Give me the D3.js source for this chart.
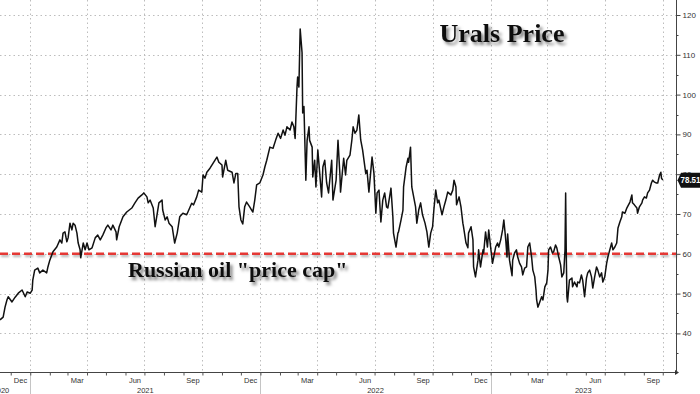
<!DOCTYPE html>
<html><head><meta charset="utf-8">
<script src="https://cdn.jsdelivr.net/npm/d3@7/dist/d3.min.js"></script>
<style>body{margin:0;background:#fff}svg{display:block}</style>
</head><body><svg id="c" width="700" height="394"></svg>
<script>
const title = "Urals Price";
const capLabel = 'Russian oil "price cap"';
const capLevel = 60;
const lastLabel = "78.51";
const yTicks = [40, 50, 60, 70, 80, 90, 100, 110, 120];
const yMinorTicks = [35, 45, 55, 65, 75, 85, 95, 105, 115];
const monthLabelNames = ["Dec", "Mar", "Jun", "Sep"];
const yearLabels = ["2020", "2021", "2022", "2023"];
const dates = [
"2020-11-14","2020-11-19","2020-11-22","2020-11-25","2020-11-27","2020-12-03","2020-12-08","2020-12-13","2020-12-19","2020-12-24","2020-12-27",
"2021-01-01","2021-01-04","2021-01-05","2021-01-08","2021-01-13","2021-01-16","2021-01-21","2021-01-27","2021-01-29","2021-02-01","2021-02-06",
"2021-02-12","2021-02-17","2021-02-20","2021-02-22","2021-02-25","2021-02-28","2021-03-02","2021-03-05","2021-03-08","2021-03-10","2021-03-13",
"2021-03-16","2021-03-18","2021-03-21","2021-03-22","2021-03-26","2021-03-29","2021-04-01","2021-04-04","2021-04-09","2021-04-14","2021-04-18",
"2021-04-22","2021-04-26","2021-05-01","2021-05-04","2021-05-09","2021-05-12","2021-05-17","2021-05-18","2021-05-22","2021-05-28","2021-06-03",
"2021-06-11","2021-06-16","2021-06-21","2021-06-27","2021-06-30","2021-07-05","2021-07-07","2021-07-10","2021-07-15","2021-07-18","2021-07-21",
"2021-07-24","2021-07-29","2021-07-30","2021-08-03","2021-08-06","2021-08-09","2021-08-14","2021-08-18","2021-08-22","2021-08-26","2021-08-31",
"2021-09-06","2021-09-08","2021-09-14","2021-09-17","2021-09-22","2021-09-25","2021-09-30","2021-10-02","2021-10-05","2021-10-08","2021-10-13",
"2021-10-18","2021-10-24","2021-10-27","2021-11-01","2021-11-02","2021-11-07","2021-11-10","2021-11-17","2021-11-20","2021-11-23","2021-11-26",
"2021-11-28","2021-12-01","2021-12-04","2021-12-07","2021-12-10","2021-12-15","2021-12-18","2021-12-20","2021-12-23","2021-12-26","2021-12-31",
"2022-01-05","2022-01-08","2022-01-11","2022-01-16","2022-01-21","2022-01-25","2022-01-29","2022-02-02","2022-02-06","2022-02-09","2022-02-12",
"2022-02-17","2022-02-20","2022-02-23","2022-02-25","2022-02-28","2022-03-01","2022-03-03","2022-03-05","2022-03-08","2022-03-09","2022-03-11",
"2022-03-14","2022-03-16","2022-03-19","2022-03-20","2022-03-24","2022-03-25","2022-03-28","2022-03-30","2022-04-02","2022-04-05","2022-04-08",
"2022-04-10","2022-04-13","2022-04-16","2022-04-19","2022-04-24","2022-04-26","2022-05-01","2022-05-04","2022-05-07","2022-05-08","2022-05-13",
"2022-05-16","2022-05-18","2022-05-23","2022-05-26","2022-05-28","2022-05-31","2022-06-03","2022-06-06","2022-06-09","2022-06-12","2022-06-17",
"2022-06-19","2022-06-22","2022-06-27","2022-06-30","2022-07-03","2022-07-05","2022-07-08","2022-07-11","2022-07-14","2022-07-17","2022-07-20",
"2022-07-22","2022-07-27","2022-07-30","2022-07-31","2022-08-04","2022-08-07","2022-08-08","2022-08-12","2022-08-15","2022-08-16","2022-08-20",
"2022-08-23","2022-08-24","2022-08-27","2022-08-29","2022-09-01","2022-09-04","2022-09-06","2022-09-09","2022-09-12","2022-09-15","2022-09-19",
"2022-09-22","2022-09-25","2022-09-28","2022-10-01","2022-10-03","2022-10-06","2022-10-09","2022-10-11","2022-10-16","2022-10-19","2022-10-22",
"2022-10-25","2022-10-30","2022-11-02","2022-11-04","2022-11-07","2022-11-08","2022-11-12","2022-11-15","2022-11-18","2022-11-19","2022-11-23",
"2022-11-26","2022-11-27","2022-12-01","2022-12-04","2022-12-05","2022-12-08","2022-12-12","2022-12-13","2022-12-16","2022-12-20","2022-12-21",
"2022-12-24","2022-12-27","2022-12-29","2023-01-01","2023-01-04","2023-01-06","2023-01-09","2023-01-12","2023-01-14","2023-01-17","2023-01-20",
"2023-01-22","2023-01-25","2023-01-27","2023-01-28","2023-01-31","2023-02-04","2023-02-05","2023-02-08","2023-02-11","2023-02-13","2023-02-16",
"2023-02-19","2023-02-21","2023-02-24","2023-02-27","2023-03-01","2023-03-04","2023-03-07","2023-03-09","2023-03-12","2023-03-14","2023-03-15",
"2023-03-17","2023-03-20","2023-03-23","2023-03-25","2023-03-28","2023-03-31","2023-04-02","2023-04-03","2023-04-06","2023-04-09","2023-04-11",
"2023-04-14","2023-04-16","2023-04-19","2023-04-22","2023-04-24","2023-04-27","2023-04-29","2023-04-30","2023-05-01","2023-05-02","2023-05-03",
"2023-05-06","2023-05-10","2023-05-11","2023-05-14","2023-05-18","2023-05-19","2023-05-22","2023-05-25","2023-05-27","2023-05-30","2023-06-02",
"2023-06-04","2023-06-07","2023-06-10","2023-06-12","2023-06-15","2023-06-18","2023-06-20","2023-06-23","2023-06-26","2023-06-28","2023-07-01",
"2023-07-04","2023-07-06","2023-07-09","2023-07-12","2023-07-14","2023-07-17","2023-07-20","2023-07-22","2023-07-25","2023-07-28","2023-07-29",
"2023-08-02","2023-08-05","2023-08-06","2023-08-10","2023-08-13","2023-08-14","2023-08-17","2023-08-21","2023-08-22","2023-08-25","2023-08-29",
"2023-08-30","2023-09-02","2023-09-05","2023-09-07","2023-09-10","2023-09-13","2023-09-15","2023-09-18","2023-09-21","2023-09-23","2023-09-26",
"2023-09-28","2023-09-29","2023-10-01"
];
const prices = [
43.4,44.1,46.6,48.4,49.2,47.9,49.1,50.1,50.9,49.2,50.4,
50.1,50.9,53.4,55.9,56.4,55.2,55.9,55.2,56.7,58.4,60.5,
61.7,63.5,62.7,65.2,65.5,63.0,64.0,67.7,66.0,67.7,67.2,
65.2,62.7,61.0,59.0,62.7,61.0,62.7,61.0,61.5,64.0,64.7,
63.5,64.7,66.5,67.2,66.0,67.2,65.5,63.5,66.8,69.3,70.5,
71.5,72.8,74.0,74.8,75.3,74.3,72.8,73.5,71.5,66.8,69.8,
72.8,73.5,71.0,68.5,69.3,67.7,66.8,62.7,65.2,69.3,70.2,
69.8,70.5,72.7,72.3,74.3,76.0,75.5,79.8,79.0,80.5,81.5,
82.8,84.3,83.0,82.3,79.3,83.5,81.0,80.5,77.8,80.2,80.2,
71.8,68.5,67.5,71.8,73.0,71.8,71.0,70.5,73.5,77.3,77.8,
79.8,81.8,83.5,86.8,86.5,88.5,90.3,89.0,91.1,89.8,91.9,
91.1,93.1,91.9,89.0,101.9,104.4,101.9,116.5,110.5,95.4,97.0,
78.5,88.5,91.9,88.5,86.8,79.3,83.5,76.8,86.1,80.2,74.3,
81.8,83.5,77.8,75.3,83.5,73.5,78.5,88.5,80.0,75.5,84.0,
79.8,83.5,84.8,88.6,91.9,90.3,91.1,94.9,88.6,86.1,80.2,
81.0,75.5,84.3,80.2,70.2,75.3,76.0,68.0,73.5,75.3,71.8,
71.5,76.5,69.3,65.2,61.7,65.2,65.5,68.5,71.0,76.8,81.8,
84.0,83.0,86.8,76.8,74.3,71.8,67.7,71.0,72.8,69.8,67.7,
65.5,61.7,65.2,66.8,71.0,76.0,72.8,73.5,69.8,71.8,73.5,
75.5,74.8,76.0,78.5,76.8,72.3,74.3,71.8,67.7,66.8,62.7,
61.5,65.2,66.8,63.5,56.7,54.2,58.4,61.0,56.7,61.0,60.2,
65.5,61.7,66.0,61.7,57.6,59.2,61.7,62.7,61.7,63.5,66.0,
68.5,63.5,59.2,65.0,58.4,54.5,58.4,60.2,61.0,59.2,57.6,
56.7,54.7,56.4,56.7,61.7,62.7,59.2,55.9,54.2,50.9,48.4,
46.6,47.9,49.2,48.4,51.7,52.7,55.9,61.0,61.7,60.2,60.5,
62.2,61.5,59.2,57.2,54.2,55.2,61.0,75.3,60.0,49.2,47.9,
53.4,53.9,51.7,52.9,51.7,52.9,52.7,54.7,53.4,49.2,53.9,
55.2,55.9,54.2,51.4,54.2,56.7,55.9,54.2,55.2,52.9,54.2,
57.6,59.2,61.0,62.7,61.0,61.7,62.7,66.5,68.0,69.3,70.5,
70.2,71.5,71.8,73.0,74.8,72.8,72.3,71.5,70.2,71.8,72.8,
73.5,74.3,74.0,75.3,76.0,77.8,78.5,78.0,77.8,77.8,79.8,
80.5,79.0,78.51
];

const W = 700, H = 394;
const plotRight = 676, axisY = 372;
const parse = d3.utcParse("%Y-%m-%d");
const series = dates.map((d, i) => ({ date: parse(d), value: prices[i] }));

const x = d3.scaleUtc()
  .domain([parse("2020-11-14"), parse("2023-10-22")])
  .range([0, plotRight]);
const y = d3.scaleLinear().domain([30.3, 123.77]).range([axisY, 0]);

const svg = d3.select("#c");
const defs = svg.append("defs");
defs.append("filter").attr("id", "tsh").attr("x", "-10%").attr("y", "-40%").attr("width", "130%").attr("height", "200%")
  .append("feDropShadow").attr("dx", 2.5).attr("dy", 3).attr("stdDeviation", 1.6)
  .attr("flood-color", "#000").attr("flood-opacity", 0.5);
defs.append("filter").attr("id", "lsh").attr("filterUnits", "userSpaceOnUse")
  .attr("x", -10).attr("y", 0).attr("width", W + 20).attr("height", H)
  .append("feDropShadow").attr("dx", 1).attr("dy", 2).attr("stdDeviation", 1)
  .attr("flood-color", "#000").attr("flood-opacity", 0.3);

// horizontal gridlines
svg.append("g").selectAll("line").data(yTicks).join("line")
  .attr("x1", 0).attr("x2", plotRight)
  .attr("y1", d => Math.round(y(d)) + 0.5).attr("y2", d => Math.round(y(d)) + 0.5)
  .attr("stroke", "#bdbdbd").attr("stroke-width", 1).attr("stroke-dasharray", "1.5,3");

// vertical gridlines at quarter starts
const quarters = d3.utcMonth.every(3).range(parse("2021-01-01"), parse("2023-10-22"));
svg.append("g").selectAll("line").data(quarters).join("line")
  .attr("x1", d => Math.round(x(d)) + 0.5).attr("x2", d => Math.round(x(d)) + 0.5)
  .attr("y1", 0).attr("y2", axisY)
  .attr("stroke", "#bdbdbd").attr("stroke-width", 1).attr("stroke-dasharray", "1.5,3");

// year separators below axis
const yearStarts = d3.utcYear.range(parse("2021-01-01"), parse("2023-10-22"));
svg.append("g").selectAll("line").data(yearStarts).join("line")
  .attr("x1", d => Math.round(x(d)) + 0.5).attr("x2", d => Math.round(x(d)) + 0.5)
  .attr("y1", axisY).attr("y2", H)
  .attr("stroke", "#c4c4c4").attr("stroke-width", 1);

// price cap line
svg.append("line")
  .attr("x1", 0).attr("x2", plotRight)
  .attr("y1", y(capLevel)).attr("y2", y(capLevel))
  .attr("stroke", "#e53935").attr("stroke-width", 2.6).attr("stroke-dasharray", "8,4")
  .attr("filter", "url(#lsh)");

// price line
const line = d3.line().x(d => x(d.date)).y(d => y(d.value)).curve(d3.curveLinear);
svg.append("path").datum(series)
  .attr("d", line).attr("fill", "none").attr("stroke", "#111")
  .attr("stroke-width", 1.5).attr("stroke-linejoin", "round");

// x axis
const xAxis = d3.axisBottom(x)
  .tickValues(d3.utcMonth.range(parse("2020-12-01"), parse("2023-10-22")))
  .tickSize(3).tickFormat("");
const gx = svg.append("g").attr("transform", `translate(0,${axisY + 0.5})`).call(xAxis);
gx.select(".domain").attr("stroke", "#444").attr("d", `M0,0H${plotRight}`);
gx.selectAll(".tick line").attr("stroke", "#555");
svg.append("path")
  .attr("d", `M${plotRight - 1},${axisY - 2}L${plotRight + 3},${axisY + 0.5}L${plotRight - 1},${axisY + 3}Z`)
  .attr("fill", "#333");

// month labels (centered in month)
const labelMonths = d3.utcMonth.range(parse("2020-12-01"), parse("2023-10-01"))
  .filter(d => monthLabelNames.includes(d3.utcFormat("%b")(d)));
svg.append("g").selectAll("text").data(labelMonths).join("text")
  .attr("x", d => (x(d) + x(d3.utcMonth.offset(d, 1))) / 2)
  .attr("y", 383)
  .attr("text-anchor", "middle")
  .attr("font-family", "Liberation Sans, Arial, sans-serif")
  .attr("font-size", 7.5).attr("fill", "#333")
  .text(d => d3.utcFormat("%b")(d));

// year labels
svg.append("g").selectAll("text").data(yearLabels).join("text")
  .attr("x", d => {
    const s = parse(d + "-01-01"), e = parse((+d + 1) + "-01-01");
    if (+d === 2020) return x(e) - 21;
    return (x(s) + Math.min(x(e), plotRight)) / 2;
  })
  .attr("y", 393)
  .attr("text-anchor", d => +d === 2020 ? "end" : "middle")
  .attr("font-family", "Liberation Sans, Arial, sans-serif")
  .attr("font-size", 7.5).attr("fill", "#333")
  .text(d => d);

// y axis (right)
const yAxis = d3.axisRight(y).tickValues(yTicks).tickSize(4).tickPadding(2).tickFormat(d3.format("d"));
const gy = svg.append("g").attr("transform", `translate(${plotRight + 0.5},0)`).call(yAxis);
gy.select(".domain").attr("stroke", "#444").attr("d", `M0,0V${axisY}`);
gy.selectAll(".tick line").attr("stroke", "#444");
gy.selectAll(".tick text")
  .attr("font-family", "Liberation Sans, Arial, sans-serif")
  .attr("font-size", 8).attr("fill", "#333");
svg.append("g").selectAll("line").data(yMinorTicks).join("line")
  .attr("x1", plotRight).attr("x2", plotRight + 2.5)
  .attr("y1", d => Math.round(y(d)) + 0.5).attr("y2", d => Math.round(y(d)) + 0.5)
  .attr("stroke", "#444");

// last value tag
const lastY = y(prices[prices.length - 1]);
svg.append("path")
  .attr("d", `M${plotRight + 1.5},${lastY}L${plotRight + 5},${lastY - 7.5}H${W + 2}V${lastY + 7.5}H${plotRight + 5}Z`)
  .attr("fill", "#111");
svg.append("text")
  .attr("x", plotRight + 4.5).attr("y", lastY + 3)
  .attr("font-family", "Liberation Sans, Arial, sans-serif")
  .attr("font-size", 8.5).attr("font-weight", "bold").attr("fill", "#fff")
  .attr("textLength", 20).attr("lengthAdjust", "spacingAndGlyphs")
  .text(lastLabel);

// title
svg.append("text")
  .attr("x", 502).attr("y", 41.5)
  .attr("text-anchor", "middle")
  .attr("font-family", "Liberation Serif, Times New Roman, serif")
  .attr("font-weight", "bold").attr("font-size", 26).attr("fill", "#111")
  .attr("filter", "url(#tsh)")
  .text(title);

// cap label
svg.append("text")
  .attr("x", 128).attr("y", 277)
  .attr("font-family", "Liberation Serif, Times New Roman, serif")
  .attr("font-weight", "bold").attr("font-size", 22).attr("fill", "#111")
  .attr("filter", "url(#tsh)")
  .text(capLabel);
</script>
</body></html>
